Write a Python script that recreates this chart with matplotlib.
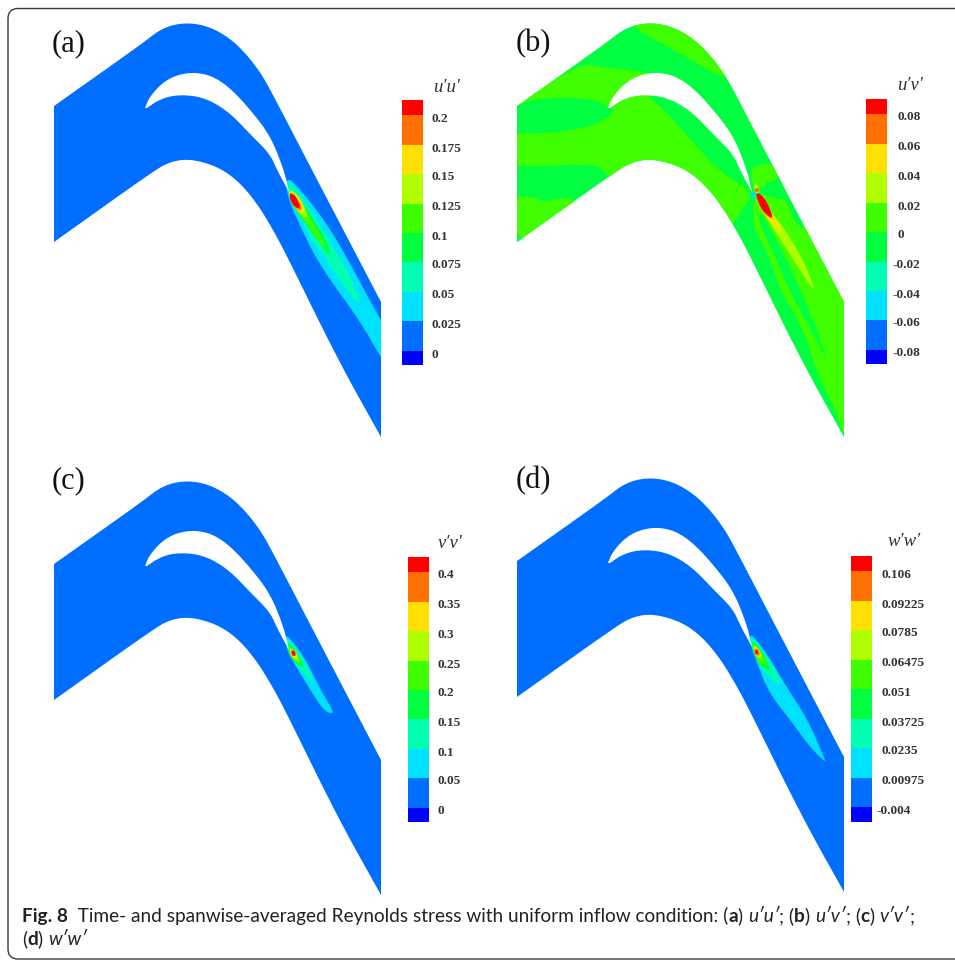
import numpy as np
import matplotlib
matplotlib.use('Agg')
import matplotlib.pyplot as plt
from matplotlib.patches import Polygon, Rectangle, FancyBboxPatch

# Contour band colours, low to high
band_colors = ['#0000ff', '#006eff', '#00e0ff', '#00ffb0', '#00ff40',
               '#40ff00', '#b0ff00', '#ffe000', '#ff7000', '#ff0000']

# Colour bar labels, bottom to top
labels_a = ['0', '0.025', '0.05', '0.075', '0.1', '0.125', '0.15', '0.175', '0.2']
labels_b = ['-0.08', '-0.06', '-0.04', '-0.02', '0', '0.02', '0.04', '0.06', '0.08']
labels_c = ['0', '0.05', '0.1', '0.15', '0.2', '0.25', '0.3', '0.35', '0.4']
labels_d = ['-0.004', '0.00975', '0.0235', '0.03725', '0.051', '0.06475', '0.0785', '0.09225', '0.106']

# Passage outline (page pixels of panel a)
outer_top = [(54, 106), (143, 43), (158, 31), (172, 25), (187, 23), (203, 25), (218, 31), (233, 41),
             (247, 55), (260, 72), (270, 89), (312, 170), (381, 302)]
outer_bottom = [(381, 437), (338, 360), (285, 252), (272, 228), (258, 205), (242, 185), (225, 171), (207, 163),
                (187, 159), (170, 162), (155, 170), (54, 242)]
blade_upper = [(145, 108), (149, 98), (160, 85), (172, 77), (186, 73), (200, 73), (214, 77), (230, 88),
               (248, 107), (270, 135), (284, 170), (289, 192)]
blade_lower = [(289, 192), (277, 170), (270, 154), (250, 134), (232, 115), (215, 103), (200, 97),
               (185, 95), (170, 96), (157, 101), (147, 108)]

# Contours, (colour index, outline) in page pixels
wake_a = [
    (2, [(286, 176), (300, 189), (325, 221), (345, 254), (381, 321), (400, 350), (400, 385), (381, 358), (360, 321), (320, 266), (300, 226), (287, 196)]),
    (3, [(286, 178), (302, 196), (317, 220), (325, 234), (335, 250), (347, 270), (355, 287), (361, 308), (345, 287), (333, 270), (320, 250), (310, 237), (302, 220), (291, 203)]),
    (4, [(288, 186), (302, 202), (313, 220), (325, 237), (332, 258), (325, 250), (315, 237), (303, 220), (295, 209)]),
    (5, [(289, 188), (302, 204), (311, 220), (322, 238), (327, 250), (318, 240), (307, 223), (294, 208)]),
    (6, [(289, 188), (299, 196), (307, 212), (307, 219), (298, 212), (290, 200)]),
    (7, [(289, 190), (298, 196), (304, 208), (304, 214), (296, 209), (290, 199)]),
    (8, [(289, 191), (297, 197), (302, 208), (300, 211), (292, 205)]),
    (9, [(289, 193), (295, 195), (300, 206), (298, 209), (291, 203)]),
]
wake_c = [
    (2, [(284, 631), (304, 656), (318, 685), (332, 709), (333, 714), (324, 711), (309, 688), (294, 663), (287, 651)]),
    (3, [(285, 635), (301, 654), (311, 675), (314, 683), (296, 666), (289, 653)]),
    (4, [(287, 641), (297, 652), (305, 670), (293, 661), (288, 652)]),
    (5, [(288, 644), (296, 652), (302, 666), (292, 659)]),
    (6, [(289, 647), (296, 652), (300, 662), (291, 657)]),
    (7, [(290, 648), (296, 652), (298, 659), (291, 656)]),
    (9, [(291, 650), (295, 651), (296, 656), (292, 656)]),
]
wake_d = [
    (2, [(749, 631), (766, 652), (786, 686), (808, 720), (824, 757), (826, 763), (809, 746), (791, 721), (769, 693), (757, 663), (752, 649)]),
    (3, [(749, 633), (771, 661), (784, 689), (764, 673), (756, 659), (752, 649)]),
    (4, [(751, 638), (763, 652), (772, 672), (759, 666), (754, 653)]),
    (5, [(752, 641), (761, 651), (768, 666), (759, 663), (754, 653)]),
    (6, [(753, 644), (760, 651), (762, 660), (755, 655)]),
    (7, [(754, 646), (760, 651), (761, 658), (755, 655)]),
    (8, [(754, 648), (759, 650), (760, 656), (755, 655)]),
    (9, [(755, 650), (758, 650), (758, 654), (755, 654)]),
]
bands_b = [
    (5, [(625, 24), (680, 53), (732, 84), (780, 70), (720, 0), (640, 0)]),
    (5, [(490, 125), (578, 63), (600, 67), (657, 73), (668, 90), (612, 112), (600, 100), (560, 97), (530, 100), (517, 106)]),
    (5, [(490, 132), (540, 134), (580, 129), (602, 122), (614, 112), (620, 90), (650, 94),
         (700, 150), (720, 172), (754, 192), (742, 210), (733, 224), (700, 250), (610, 210), (610, 167), (568, 164), (545, 167), (490, 164)]),
    (5, [(490, 198), (533, 196), (543, 202), (557, 199), (575, 197), (600, 250), (490, 270)]),
    (4, [(490, 233), (528, 233), (505, 260)]),
    (5, [(749, 170), (760, 164), (773, 163), (780, 178), (766, 184), (755, 191)]),
    (5, [(755, 191), (775, 199), (786, 199), (791, 215), (798, 226), (806, 228), (880, 300), (880, 470),
         (845, 440), (837, 413), (817, 373), (807, 340), (793, 310), (783, 297), (767, 250), (752, 228)]),
    (4, [(756, 208), (771, 229), (791, 269), (811, 314), (830, 367), (814, 335), (794, 300), (774, 255), (761, 226)]),
    (6, [(755, 191), (773, 214), (788, 234), (804, 262), (818, 297), (796, 264), (777, 234), (761, 209)]),
    (6, [(755, 180), (761, 193), (754, 193)]),
    (7, [(755, 195), (771, 211), (785, 236), (771, 223), (759, 206)]),
    (8, [(755, 194), (766, 203), (775, 221), (762, 212)]),
    (9, [(755, 193), (761, 194), (768, 204), (774, 220), (762, 211)]),
    (8, [(755, 188), (759, 188), (759, 192), (755, 192)]),
    (2, [(750, 192), (755, 192), (756, 197), (751, 197)]),
]

# Colour bar boundaries, top to bottom
bar_steps_a = [100, 115, 145, 174, 204, 233, 262, 292, 321, 351, 365]
bar_steps_b = [99, 114, 144, 173, 203, 232, 262, 291, 320, 350, 364]
bar_steps_c = [557, 572, 602, 631, 661, 690, 719, 749, 778, 808, 822]
bar_steps_d = [556, 571, 601, 630, 660, 689, 719, 748, 778, 807, 822]

panels = [
    ('(a)', 0, 0, 1, wake_a, labels_a, bar_steps_a, 402, 431.5, 'u\u2032u\u2032', 447, 87, 52, 44),
    ('(b)', 463, 0, 4, bands_b, labels_b, bar_steps_b, 866, 897, 'u\u2032v\u2032', 910, 86, 516, 44),
    ('(c)', 0, 458, 1, wake_c, labels_c, bar_steps_c, 408, 437, 'v\u2032v\u2032', 450, 543, 52, 481),
    ('(d)', 463, 455, 1, wake_d, labels_d, bar_steps_d, 851, 881, 'w\u2032w\u2032', 904, 542, 516, 481),
]

caption_1 = [('Fig. 8', 'bold', 'normal'), ('  Time- and spanwise-averaged Reynolds stress with uniform inflow condition: (', 'normal', 'normal'),
             ('a', 'bold', 'normal'), (') ', 'normal', 'normal'), ('u\u2032u\u2032', 'normal', 'italic'), ('; (', 'normal', 'normal'),
             ('b', 'bold', 'normal'), (') ', 'normal', 'normal'), ('u\u2032v\u2032', 'normal', 'italic'), ('; (', 'normal', 'normal'),
             ('c', 'bold', 'normal'), (') ', 'normal', 'normal'), ('v\u2032v\u2032', 'normal', 'italic'), (';', 'normal', 'normal')]
caption_2 = [('(', 'normal', 'normal'), ('d', 'bold', 'normal'), (') ', 'normal', 'normal'), ('w\u2032w\u2032', 'normal', 'italic')]


def chaikin(points, closed=False, rounds=3):
    # Corner cutting, rounds off the traced outlines
    p = np.array(points, dtype=float)
    for _ in range(rounds):
        if closed:
            q = np.roll(p, -1, axis=0)
            p = np.column_stack([0.75 * p + 0.25 * q, 0.25 * p + 0.75 * q]).reshape(-1, 2)
        else:
            a, b = p[:-1], p[1:]
            mid = np.column_stack([0.75 * a + 0.25 * b, 0.25 * a + 0.75 * b]).reshape(-1, 2)
            p = np.vstack([p[0], mid, p[-1]])
    return p


def draw_caption(ax, fig, runs, x, y):
    renderer = fig.canvas.get_renderer()
    for text, weight, style in runs:
        t = ax.text(x, y, text, family='Lato', fontsize=13.7, fontweight=weight, fontstyle=style,
                    color='#222222', va='baseline', ha='left')
        x += t.get_window_extent(renderer).width


fig = plt.figure(figsize=(9.55, 9.6), dpi=100)
ax = fig.add_axes([0, 0, 1, 1])
ax.set_xlim(0, 955)
ax.set_ylim(960, 0)
ax.axis('off')

# Card frame, runs off the right side
ax.add_patch(FancyBboxPatch((8, 8.5), 1100, 950.5, boxstyle='round,pad=0,rounding_size=10',
                            fc='white', ec='#3a3a3a', lw=1.0))

for name, dx, dy, base, regions, labels, steps, bar_x, label_x, title, title_x, title_y, name_x, name_y in panels:
    offset = np.array([dx, dy])
    outline = np.vstack([chaikin(outer_top), chaikin(outer_bottom)]) + offset
    passage = Polygon(outline, closed=True, fc=band_colors[base], ec='none')
    ax.add_patch(passage)
    for level, pts in regions:
        patch = Polygon(chaikin(pts, closed=True, rounds=2), closed=True, fc=band_colors[level], ec='none')
        ax.add_patch(patch)
        patch.set_clip_path(passage)
    blade = np.vstack([chaikin(blade_upper), chaikin(blade_lower)]) + offset
    ax.add_patch(Polygon(blade, closed=True, fc='white', ec='none'))

    # Colour bar
    for i in range(10):
        ax.add_patch(Rectangle((bar_x, steps[i]), 21, steps[i + 1] - steps[i],
                               fc=band_colors[9 - i], ec='none'))
    for i, lab in enumerate(labels):
        y = steps[9 - i] + 3.5
        x = label_x - 4.5 if lab.startswith('-') else label_x
        ax.text(x, y, lab, family='Liberation Serif', fontweight='bold', fontsize=9.5,
                color='#333333', va='center', ha='left')
    ax.text(title_x, title_y, title, family='Liberation Serif', fontstyle='italic', fontsize=13.5,
            color='#333333', va='center', ha='center')
    ax.text(name_x, name_y, name, family='Liberation Serif', fontsize=22, color='#111111',
            va='center', ha='left')

fig.canvas.draw()
draw_caption(ax, fig, caption_1, 22, 922)
draw_caption(ax, fig, caption_2, 22, 945)

fig.savefig('out.png', dpi=100)
